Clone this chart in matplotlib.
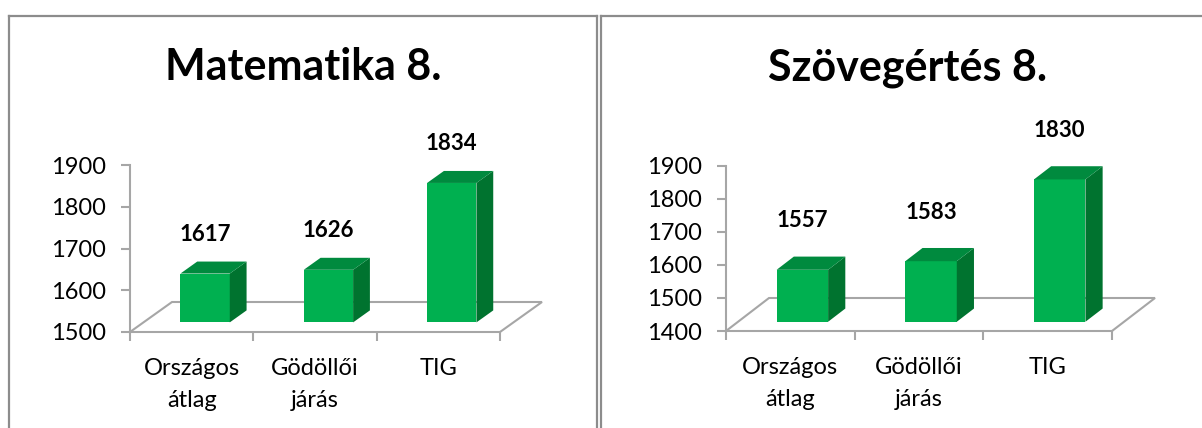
import matplotlib
matplotlib.use("Agg")
import matplotlib.pyplot as plt
from matplotlib.patches import Rectangle, Polygon
from matplotlib.lines import Line2D

plt.rcParams['font.family'] = ['Lato', 'DejaVu Sans']

# ---- data ----
categories = ["Országos\nátlag", "Gödöllői\njárás", "TIG"]
math_title = "Matematika 8."
math_values = [1617, 1626, 1834]
math_ticks = [1500, 1600, 1700, 1800, 1900]
read_title = "Szövegértés 8."
read_values = [1557, 1583, 1830]
read_ticks = [1400, 1500, 1600, 1700, 1800, 1900]

W, H = 1202, 428
fig = plt.figure(figsize=(W / 100, H / 100), dpi=100)

GRID = "#A6A6A6"
FRONT = "#00B050"
TOP = "#008A3E"
SIDE = "#00732F"
BORDER = "#8C8C8C"


def px_axes(left, right, top, bottom):
    return fig.add_axes([left / W, 1 - bottom / H, (right - left) / W, (bottom - top) / H])


def draw_panel(ax, values, ticks, depth_px, front_frac, side_frac, label_px, bar_w=0.4):
    ymin, ymax = ticks[0], ticks[-1]
    n = len(values)
    ax.set_xlim(0, n)
    ax.set_ylim(ymin, ymax)
    pos = ax.get_position()
    wpx, hpx = pos.width * W, pos.height * H
    ppx = wpx / n
    ppy = hpx / (ymax - ymin)
    Dx = depth_px[0] / ppx
    Dy = depth_px[1] / ppy
    # floor outline
    ax.plot([0, Dx, n + Dx, n], [ymin, ymin + Dy, ymin + Dy, ymin],
            color=GRID, lw=1.5, clip_on=False, zorder=1, solid_joinstyle='miter')
    sdx, sdy = side_frac * Dx, side_frac * Dy
    for i, v in enumerate(values):
        x0 = i + 0.5 - bar_w / 2 + front_frac * Dx
        y0 = ymin + front_frac * Dy
        y1 = v + front_frac * Dy
        ax.add_patch(Rectangle((x0, y0), bar_w, y1 - y0, facecolor=FRONT,
                               edgecolor='none', clip_on=False, zorder=3))
        ax.add_patch(Polygon([(x0 + bar_w, y0), (x0 + bar_w + sdx, y0 + sdy),
                              (x0 + bar_w + sdx, y1 + sdy), (x0 + bar_w, y1)],
                             closed=True, facecolor=SIDE, edgecolor='none',
                             clip_on=False, zorder=3))
        ax.add_patch(Polygon([(x0, y1), (x0 + bar_w, y1), (x0 + bar_w + sdx, y1 + sdy),
                              (x0 + sdx, y1 + sdy)],
                             closed=True, facecolor=TOP, edgecolor='none',
                             clip_on=False, zorder=3))
        ax.annotate(f"{v}", (x0 + bar_w / 2, y1), xytext=(0, label_px),
                    textcoords='offset pixels', ha='center', va='center',
                    fontsize=16, fontweight='bold', color='black',
                    annotation_clip=False)
    ax.set_yticks(ticks)
    ax.set_yticklabels([str(t) for t in ticks], fontsize=17)
    ax.set_xticks(range(n + 1))
    ax.set_xticklabels([])
    ax.set_xticks([i + 0.5 for i in range(n)], minor=True)
    ax.set_xticklabels(categories, minor=True, fontsize=17, linespacing=1.65)
    ax.tick_params(axis='x', which='minor', length=0, pad=18.5)
    ax.tick_params(axis='both', which='major', direction='out', length=6.5,
                   width=1.5, color=GRID)
    ax.tick_params(axis='y', pad=11)
    for s in ['top', 'right']:
        ax.spines[s].set_visible(False)
    for s in ['left', 'bottom']:
        ax.spines[s].set_color(GRID)
        ax.spines[s].set_linewidth(1.5)
    ax.patch.set_visible(False)


ax1 = px_axes(130, 500, 165, 332)
draw_panel(ax1, math_values, math_ticks, (42, 30), 0.32, 0.4, 39)

ax2 = px_axes(726, 1112, 165.5, 331)
draw_panel(ax2, read_values, read_ticks, (43, 33), 0.28, 0.4, 49)

# titles
fig.text(303 / W, 1 - 80 / H, math_title, ha='center', va='baseline',
         fontsize=31, fontweight='bold')
fig.text(908 / W, 1 - 80 / H, read_title, ha='center', va='baseline',
         fontsize=31, fontweight='bold')

# panel borders
def hline(x0, x1, y):
    fig.add_artist(Line2D([x0 / W, x1 / W], [1 - y / H, 1 - y / H], color=BORDER, lw=1.6))

def vline(x, y0, y1):
    fig.add_artist(Line2D([x / W, x / W], [1 - y0 / H, 1 - y1 / H], color=BORDER, lw=1.6))

hline(8.5, 597, 15.5)
vline(9, 15.5, 440)
vline(596.5, 15.5, 440)
hline(601, 1210, 15.5)
vline(601, 15.5, 440)

fig.savefig("out.png", dpi=100)
